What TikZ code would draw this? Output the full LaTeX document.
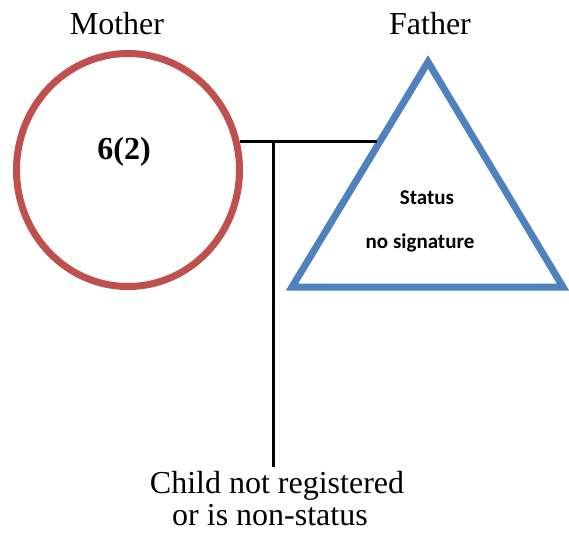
\documentclass[tikz,border=0pt]{standalone}
\usepackage{fontspec}
\setmainfont{Liberation Serif}
\newfontfamily\calib{Carlito}
\usetikzlibrary{shapes.geometric,calc}
\definecolor{mred}{HTML}{C0504D}
\definecolor{fblue}{HTML}{4F81BD}
\begin{document}
\begin{tikzpicture}[x=1pt,y=-1pt,
  lbl/.style={font=\fontsize{32}{34}\selectfont, inner sep=0pt},
  tri/.style={font=\calib\bfseries\fontsize{21}{24}\selectfont, inner sep=0pt},
  link/.style={draw=black, line width=3pt}]
\useasboundingbox (0,0) rectangle (569,533);
% Mother
\node[ellipse, draw=mred, line width=7pt, minimum width=223pt, minimum height=233pt, inner sep=0pt] (mom) at (128,170) {};
\node[lbl, font=\bfseries\fontsize{32}{34}\selectfont] (momtxt) at (124,152) {6(2)};
\node[lbl] (momlbl) at (117,24) {Mother};
% Father
\coordinate (ftop) at (428,62);
\coordinate (fbl) at (292,287);
\coordinate (fbr) at (563,287);
\draw[fblue, line width=7pt, line join=miter] (ftop) -- (fbl) -- (fbr) -- cycle;
\node[lbl] (dadlbl) at (430,24) {Father};
\node[tri] (st) at (427,198) {Status};
\node[tri] (ns) at (420,243) {no signature};
% links
\coordinate (hl) at (240,141);
\coordinate (hr) at (377,141);
\coordinate (vt) at (273,141);
\coordinate (vb) at (273,467);
\draw[link] (hl) -- (hr);
\draw[link] (vt) -- (vb);
% child
\node[lbl, anchor=base] (child1) at (277,493) {Child not registered};
\node[lbl, anchor=base] (child2) at (270,525) {or is non-status};
\end{tikzpicture}
\end{document}
